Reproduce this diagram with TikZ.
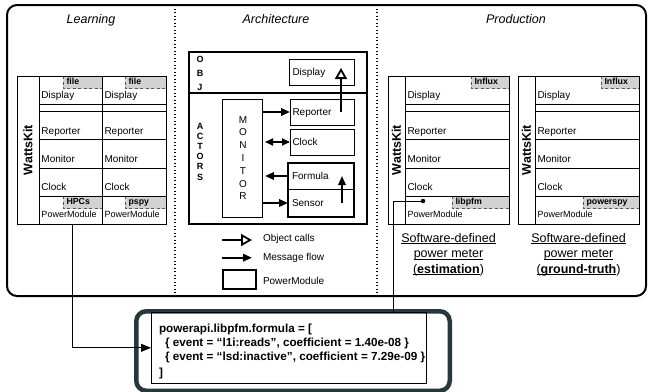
\documentclass[tikz,border=0pt]{standalone}
\usepackage{fontspec}
\setmainfont{Liberation Sans}
\usetikzlibrary{arrows.meta,calc}
\definecolor{frameC}{RGB}{38,56,60}
\definecolor{tagC}{RGB}{210,210,210}
\newcommand{\myul}[1]{\underline{\smash{#1}}}
\tikzset{
 cellb/.style={draw, line width=0.9pt, inner sep=0pt, outer sep=0pt},
 thickb/.style={draw, line width=2pt, inner sep=0pt, outer sep=0pt},
 txt/.style={inner sep=0pt, outer sep=0pt, font=\fontsize{10}{12}\selectfont},
 smalltxt/.style={inner sep=0pt, outer sep=0pt, font=\fontsize{9}{11}\selectfont},
 tagfill/.style={fill=tagC, inner sep=0pt, outer sep=0pt},
 tagline/.style={draw=black!65, line width=0.9pt, dash pattern=on 3pt off 2.5pt},
 tagtxt/.style={inner sep=0pt, outer sep=0pt, font=\fontsize{8.8}{10}\selectfont\bfseries},
 title/.style={inner sep=0pt, font=\fontsize{12.5}{14}\selectfont\itshape},
 wklabel/.style={inner sep=0pt, rotate=90, font=\fontsize{12.5}{14}\selectfont\bfseries},
 msg/.style={line width=1.8pt, -{Triangle[length=9pt,width=7.5pt]}},
 msgboth/.style={line width=1.8pt, {Triangle[length=8pt,width=7pt]}-{Triangle[length=8pt,width=7pt]}},
 objcall/.style={line width=1.8pt, -{Triangle[open,length=11pt,width=12pt]}},
 sep/.style={line width=1.3pt, dash pattern=on 1.3pt off 2.2pt},
 conn/.style={line width=0.9pt},
 ftxt/.style={inner sep=0pt, outer sep=0pt, anchor=base west, font=\fontsize{11.7}{14}\selectfont\bfseries},
 swtxt/.style={inner sep=0pt, outer sep=0pt, anchor=base, font=\fontsize{12.5}{15}\selectfont},
}
\newcommand{\wktag}[5]{%
  \node[tagfill, minimum width={#3-#2}, minimum height=12.5, anchor=north west] (#1) at (#2,#4) {};
  \draw[tagline] (#1.north west) -- (#1.south west) -- (#1.south east);
  \node[tagtxt, anchor=base west] (#1t) at ([shift={(3.5,8.3)}]#1.north west) {#5};
}
\newcommand{\wkcol}[3]{%
  \pgfmathsetmacro\wkcx{(#2+#3)/2}\pgfmathsetmacro\wkcw{#3-#2}%
  \node[cellb, minimum width=\wkcw, minimum height=28] (#1disp) at (\wkcx,90) {};
  \node[cellb, minimum width=\wkcw, minimum height=7] (#1gap) at (\wkcx,107.5) {};
  \node[cellb, minimum width=\wkcw, minimum height=28] (#1rep) at (\wkcx,125) {};
  \node[cellb, minimum width=\wkcw, minimum height=29] (#1mon) at (\wkcx,153.5) {};
  \node[cellb, minimum width=\wkcw, minimum height=28] (#1clk) at (\wkcx,182) {};
  \node[cellb, minimum width=\wkcw, minimum height=28] (#1pm) at (\wkcx,210) {};
  \node[txt, anchor=base west] (#1dispt) at ([shift={(2.5,-6)}]#1disp.south west) {Display};
  \node[txt, anchor=base west] (#1rept) at ([shift={(2.5,-5)}]#1rep.south west) {Reporter};
  \node[txt, anchor=base west] (#1mont) at ([shift={(2.5,-5.5)}]#1mon.south west) {Monitor};
  \node[txt, anchor=base west] (#1clkt) at ([shift={(2.5,-5.5)}]#1clk.south west) {Clock};
  \node[smalltxt, anchor=base west] (#1pmt) at ([shift={(2.5,-6.5)}]#1pm.south west) {PowerModule};
}
\begin{document}
\begin{tikzpicture}[x=1pt,y=-1pt]
\useasboundingbox (0,0) rectangle (648,391);
% frame and separators
\draw[line width=2pt, rounded corners=10pt] (7,5) rectangle (646,296);
\draw[sep] (175,5) -- (175,296);
\draw[sep] (377,5) -- (377,296);
\node[title, anchor=base] (tlearn) at (91,23.5) {Learning};
\node[title, anchor=base] (tarch) at (276,23.5) {Architecture};
\node[title, anchor=base] (tprod) at (516,23.5) {Production};

% Learning
\wktag{t1}{63}{102}{76}{file}
\wktag{t2}{125}{166}{76}{file}
\wktag{t3}{63}{102}{196}{HPCs}
\wktag{t4}{125}{166}{196}{pspy}
\wkcol{La}{39}{102}
\wkcol{Lb}{102}{166}
\node[cellb, minimum width=22, minimum height=148] (Lwk) at (28,150) {};
\node[wklabel] (Lwkt) at (Lwk.center) {WattsKit};

% Production
\wktag{t5}{471}{509}{76}{Influx}
\wktag{t6}{452}{509}{196}{libpfm}
\wktag{t7}{601}{639}{76}{Influx}
\wktag{t8}{583}{639}{196}{powerspy}
\wkcol{Pa}{405}{509}
\wkcol{Pb}{535}{639}
\node[cellb, minimum width=17, minimum height=148] (Pwk) at (396.5,150) {};
\node[wklabel] (Pwkt) at (Pwk.center) {WattsKit};
\node[cellb, minimum width=17, minimum height=148] (Qwk) at (526.5,150) {};
\node[wklabel] (Qwkt) at (Qwk.center) {WattsKit};

\node[swtxt] (sw1a) at (448.5,242) {\myul{Software-defined}};
\node[swtxt] (sw1b) at (448.5,257.5) {\myul{power meter}};
\node[swtxt] (sw1c) at (448.5,273) {\myul{(\textbf{estimation}})};
\node[swtxt] (sw2a) at (578.5,242) {\myul{Software-defined}};
\node[swtxt] (sw2b) at (578.5,257.5) {\myul{power meter}};
\node[swtxt] (sw2c) at (578.5,273) {\myul{(\textbf{ground-truth}})};

% Architecture
\node[thickb, minimum width=178, minimum height=41, anchor=north west] (objbox) at (189,52) {};
\node[thickb, minimum width=178, minimum height=131, anchor=north west] (actbox) at (189,93) {};
\node[inner sep=0pt, align=center, font=\fontsize{9}{14}\selectfont\bfseries] (objt) at (200,73) {O\\B\\J};
\node[inner sep=0pt, align=center, font=\fontsize{9}{10.2}\selectfont\bfseries] (actt) at (200,151.5) {A\\C\\T\\O\\R\\S};
\node[cellb, minimum width=40, minimum height=118, anchor=north west] (monitor) at (222,99) {};
\node[inner sep=0pt, align=center, font=\fontsize{10}{12.8}\selectfont] (monitort) at (243,158) {M\\O\\N\\I\\T\\O\\R};
\node[cellb, minimum width=65, minimum height=26, anchor=north west] (adisp) at (289,59) {};
\node[cellb, minimum width=64, minimum height=26, anchor=north west] (arep) at (290,99) {};
\node[cellb, minimum width=64, minimum height=26, anchor=north west] (aclk) at (290,129) {};
\node[cellb, minimum width=66, minimum height=26, anchor=north west] (aform) at (288,163) {};
\node[cellb, minimum width=66, minimum height=28, anchor=north west] (asens) at (288,189) {};
\draw[line width=2pt] (aform.north west) rectangle (asens.south east);
\node[txt, anchor=base west] (adispt) at ([shift={(3.5,3.8)}]adisp.west) {Display};
\node[txt, anchor=base west] (arept) at ([shift={(2.5,3.6)}]arep.west) {Reporter};
\node[txt, anchor=base west] (aclkt) at ([shift={(2.5,3.6)}]aclk.west) {Clock};
\node[txt, anchor=base west] (aformt) at ([shift={(4,3.2)}]aform.west) {Formula};
\node[txt, anchor=base west] (asenst) at ([shift={(4,3.2)}]asens.west) {Sensor};
\coordinate (monE) at ([xshift=3pt]monitor.east);
\draw[msg] (monitor.east |- arep.west) -- (arep.west);
\draw[msgboth] (monE |- aclk.west) -- (aclk.west);
\draw[msg] (aform.west) -- (monE |- aform.west);
\draw[msg] (monitor.east |- asens.west) -- (asens.west);
\draw[msg] ([xshift=-12pt]asens.east) -- ([xshift=-12pt]aform.east);
\draw[objcall] ([xshift=-13pt]arep.east) -- ([shift={(-13pt,4pt)}]adisp.east);

% legend
\coordinate (lg1a) at (222,240); \coordinate (lg1b) at (252,240);
\draw[objcall] (lg1a) -- (lg1b);
\node[txt, anchor=base west] (lg1t) at (263,241) {Object calls};
\coordinate (lg2a) at (222,257.7); \coordinate (lg2b) at (252,257.7);
\draw[msg] (lg2a) -- (lg2b);
\node[txt, anchor=base west] (lg2t) at (263,260.7) {Message flow};
\node[thickb, minimum width=33, minimum height=19, anchor=north west] (lg3) at (223,270) {};
\node[txt, anchor=base west] (lg3t) at (263,284) {PowerModule};

% formula box
\node[draw=frameC, line width=4.5pt, rounded corners=10pt, inner sep=0pt, minimum width=313.5, minimum height=79.5, anchor=north west] (fouter) at (134,309) {};
\node[cellb, minimum width=275, minimum height=71, anchor=north west] (finner) at (151,312.3) {};
\node[ftxt] (f1) at (159,332.5) {powerapi.libpfm.formula = [};
\node[ftxt] (f2) at (165,346.2) {\{ event = “l1i:reads”, coefficient = 1.40e-08 \}};
\node[ftxt] (f3) at (165,360.4) {\{ event = “lsd:inactive", coefficient = 7.29e-09 \}};
\node[ftxt] (f4) at (159,376) {]};

% connectors
\draw[conn, -{Triangle[length=10pt,width=8pt]}] ([xshift=1.5pt]Lapm.south) |- (finner.west);
\node[circle, fill, inner sep=0pt, minimum size=4.5pt] (libdot) at (423,201) {};
\coordinate (libturn) at (393,201);
\draw[conn] (libdot.center) -- (libturn) -- (libturn |- finner.north);
\end{tikzpicture}
\end{document}
